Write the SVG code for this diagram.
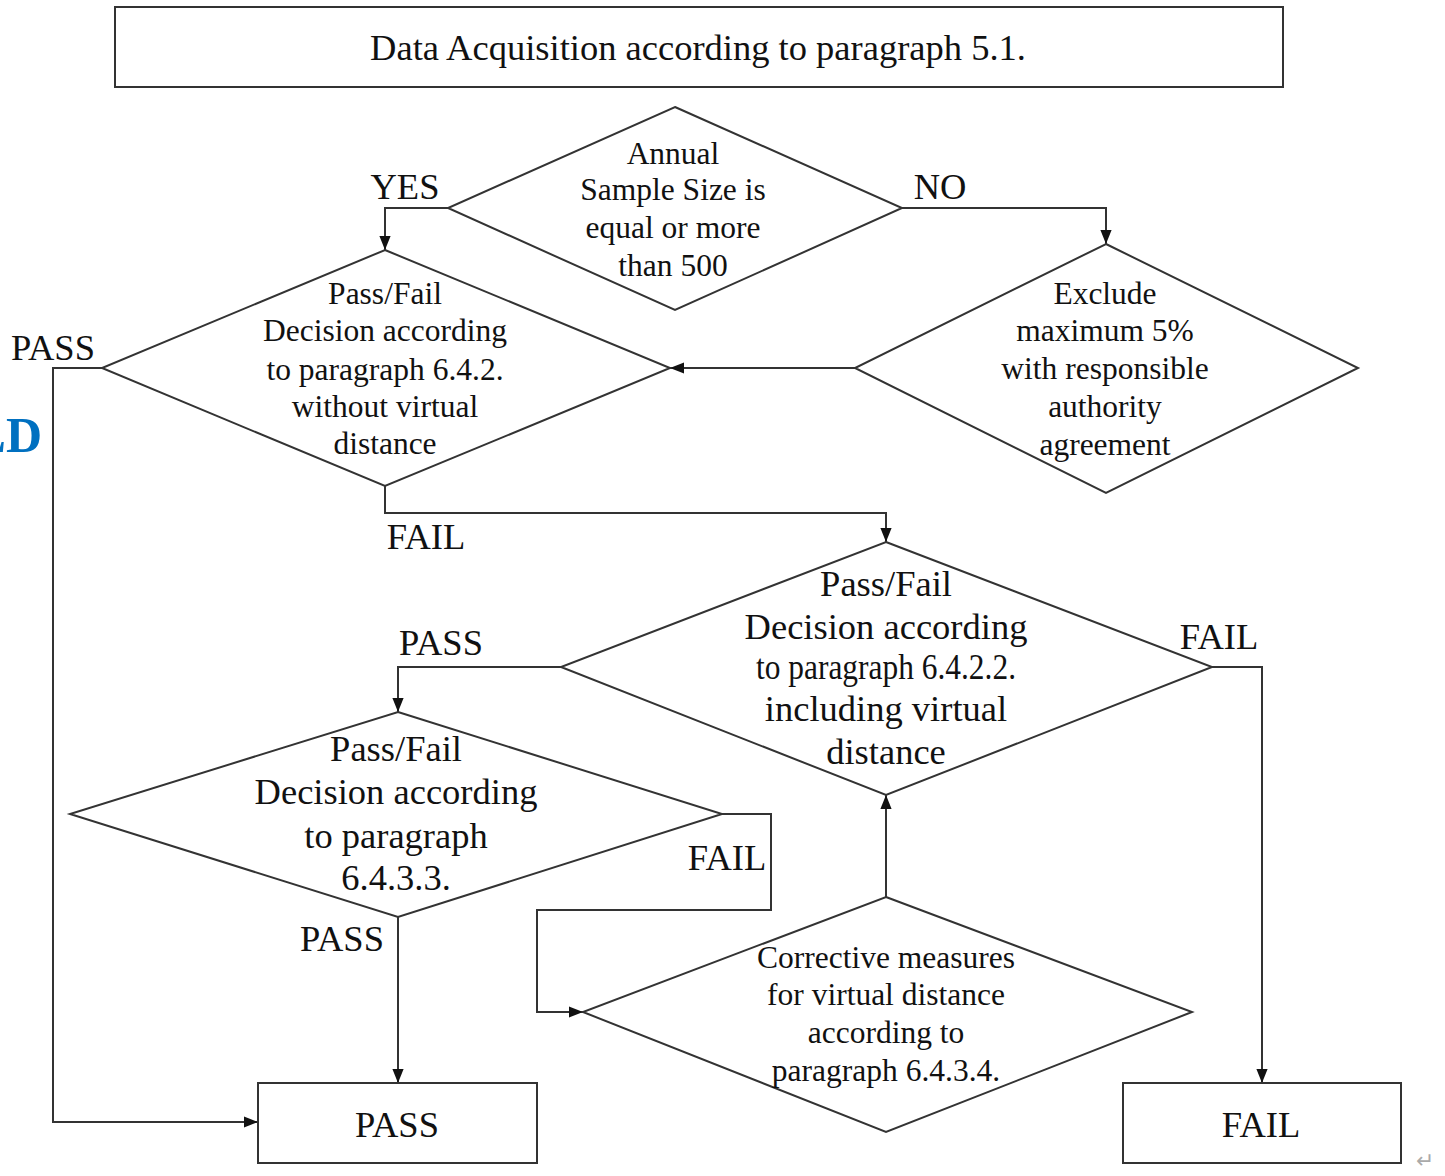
<svg xmlns="http://www.w3.org/2000/svg" width="1445" height="1176" viewBox="0 0 1445 1176">
<style>
.s{fill:#fff;stroke:#333;stroke-width:2}
.c{fill:none;stroke:#333;stroke-width:2}
text{font-family:'Liberation Serif','Times New Roman',serif;fill:#111;text-anchor:middle}
.t31{font-size:31.5px}
.t36{font-size:36.5px}
.lb{font-size:36.5px}
</style>
<defs>
<marker id="a" viewBox="0 0 10 10" refX="10" refY="5" markerWidth="14" markerHeight="14" markerUnits="userSpaceOnUse" orient="auto">
<path d="M0,1 L10,5 L0,9 z" fill="#111"/>
</marker>
</defs>
<rect width="1445" height="1176" fill="#fff"/>
<text x="42" y="452" style="font-size:50px;font-weight:bold;fill:#0070C0;text-anchor:end">LD</text>
<g id="connectors">
<path class="c" d="M448,208 H385 V250" marker-end="url(#a)"/>
<path class="c" d="M902,208 H1106 V244" marker-end="url(#a)"/>
<path class="c" d="M855,368 H670" marker-end="url(#a)"/>
<path class="c" d="M102,368 H53 V1122 H258" marker-end="url(#a)"/>
<path class="c" d="M385,486 V513 H886 V542" marker-end="url(#a)"/>
<path class="c" d="M561,667 H398 V712" marker-end="url(#a)"/>
<path class="c" d="M1212,667 H1262 V1083" marker-end="url(#a)"/>
<path class="c" d="M722,814 H771 V910 H537 V1012 H583" marker-end="url(#a)"/>
<path class="c" d="M398,917 V1083" marker-end="url(#a)"/>
<path class="c" d="M886,897 V795" marker-end="url(#a)"/>
<text class="lb" x="405" y="199">YES</text>
<text class="lb" x="940" y="199">NO</text>
<text class="lb" x="53" y="360">PASS</text>
<text class="lb" x="426" y="549">FAIL</text>
<text class="lb" x="441" y="655">PASS</text>
<text class="lb" x="1219" y="649">FAIL</text>
<text class="lb" x="727" y="870">FAIL</text>
<text class="lb" x="342" y="951">PASS</text>
</g>
<g id="start">
<rect class="s" x="115" y="7" width="1168" height="80"/>
<text class="lb" x="698" y="60">Data Acquisition according to paragraph 5.1.</text>
</g>
<g id="annual">
<polygon class="s" points="675,107 902,208 675,310 448,208"/>
<text class="t31" x="673" y="164">Annual</text>
<text class="t31" x="673" y="200">Sample Size is</text>
<text class="t31" x="673" y="238">equal or more</text>
<text class="t31" x="673" y="276">than 500</text>
</g>
<g id="decision1">
<polygon class="s" points="385,250 670,368 385,486 102,368"/>
<text class="t31" x="385" y="304">Pass/Fail</text>
<text class="t31" x="385" y="341">Decision according</text>
<text class="t31" x="385" y="380">to paragraph 6.4.2.</text>
<text class="t31" x="385" y="417">without virtual</text>
<text class="t31" x="385" y="454">distance</text>
</g>
<g id="exclude">
<polygon class="s" points="1106,244 1358,368 1106,493 855,368"/>
<text class="t31" x="1105" y="304">Exclude</text>
<text class="t31" x="1105" y="341">maximum 5%</text>
<text class="t31" x="1105" y="379">with responsible</text>
<text class="t31" x="1105" y="417">authority</text>
<text class="t31" x="1105" y="455">agreement</text>
</g>
<g id="decision2">
<polygon class="s" points="886,542 1212,667 886,795 561,667"/>
<text class="t36" x="886" y="596">Pass/Fail</text>
<text class="t36" x="886" y="639">Decision according</text>
<text class="t36" x="886" y="679" textLength="260" lengthAdjust="spacingAndGlyphs">to paragraph 6.4.2.2.</text>
<text class="t36" x="886" y="721">including virtual</text>
<text class="t36" x="886" y="764">distance</text>
</g>
<g id="decision3">
<polygon class="s" points="398,712 722,814 398,917 70,814"/>
<text class="t36" x="396" y="761">Pass/Fail</text>
<text class="t36" x="396" y="804">Decision according</text>
<text class="t36" x="396" y="848">to paragraph</text>
<text class="t36" x="396" y="890">6.4.3.3.</text>
</g>
<g id="corrective">
<polygon class="s" points="886,897 1192,1012 886,1132 583,1012"/>
<text class="t31" x="886" y="968">Corrective measures</text>
<text class="t31" x="886" y="1005">for virtual distance</text>
<text class="t31" x="886" y="1043">according to</text>
<text class="t31" x="886" y="1081">paragraph 6.4.3.4.</text>
</g>
<g id="pass">
<rect class="s" x="258" y="1083" width="279" height="80"/>
<text class="lb" x="397" y="1137">PASS</text>
</g>
<g id="fail">
<rect class="s" x="1123" y="1083" width="278" height="80"/>
<text class="lb" x="1261" y="1137">FAIL</text>
</g>
<text x="1425" y="1168" style="font-family:'DejaVu Sans',sans-serif;font-size:22px;fill:#aaa">↵</text>
</svg>
